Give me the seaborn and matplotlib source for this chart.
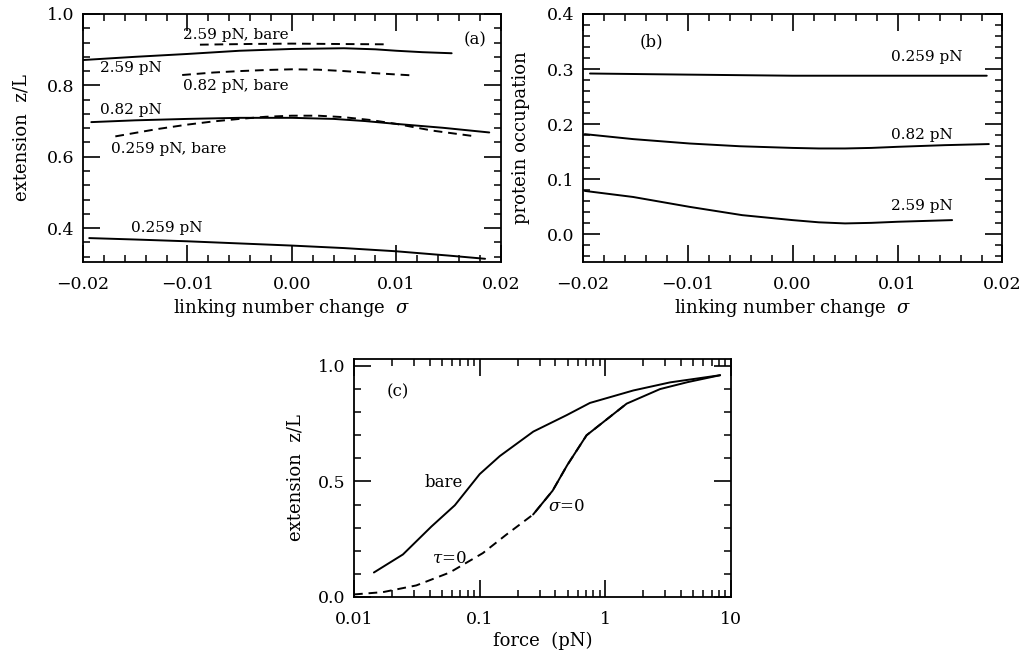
import numpy as np
import pandas as pd
import seaborn as sns
import matplotlib.pyplot as plt
from matplotlib.ticker import MultipleLocator, LogLocator, FixedLocator, FixedFormatter, NullFormatter

# ---- panel (a): extension vs linking number change ----
a_259_x = [-0.0194, -0.015, -0.01, -0.005, 0.0, 0.005, 0.01, 0.015, 0.0185]
a_259_y = [0.372, 0.368, 0.363, 0.357, 0.351, 0.344, 0.335, 0.323, 0.314]
a_259bare_x = [-0.0169, -0.013, -0.01, -0.0075, -0.005, -0.0025, 0.0, 0.0025, 0.0049, 0.0075, 0.01, 0.0135, 0.0176]
a_259bare_y = [0.657, 0.677, 0.690, 0.699, 0.706, 0.712, 0.715, 0.715, 0.711, 0.703, 0.692, 0.673, 0.657]
a_082_x = [-0.0192, -0.015, -0.01, -0.005, 0.0, 0.004, 0.007, 0.01, 0.0145, 0.0189]
a_082_y = [0.697, 0.702, 0.706, 0.709, 0.709, 0.706, 0.700, 0.692, 0.681, 0.668]
a_082bare_x = [-0.0105, -0.0075, -0.005, -0.0025, 0.0, 0.0025, 0.005, 0.008, 0.0115]
a_082bare_y = [0.829, 0.836, 0.840, 0.843, 0.845, 0.844, 0.840, 0.834, 0.828]
a_259pN_x = [-0.02, -0.015, -0.01, -0.005, 0.0, 0.005, 0.008, 0.01, 0.0125, 0.0153]
a_259pN_y = [0.871, 0.880, 0.888, 0.897, 0.902, 0.904, 0.901, 0.897, 0.893, 0.890]
a_259pNbare_x = [-0.0088, -0.004, 0.0, 0.004, 0.009]
a_259pNbare_y = [0.914, 0.916, 0.917, 0.916, 0.915]

# ---- panel (b): protein occupation ----
b_259_x = [-0.0193, -0.01, 0.0, 0.01, 0.0185]
b_259_y = [0.292, 0.290, 0.288, 0.288, 0.288]
b_082_x = [-0.0198, -0.0152, -0.0098, -0.005, 0.0, 0.0025, 0.005, 0.0075, 0.01, 0.0145, 0.0187]
b_082_y = [0.182, 0.173, 0.165, 0.160, 0.157, 0.156, 0.156, 0.157, 0.159, 0.162, 0.164]
b_259pN_x = [-0.0198, -0.0152, -0.0098, -0.0048, 0.0, 0.0025, 0.005, 0.0075, 0.01, 0.0152]
b_259pN_y = [0.079, 0.068, 0.050, 0.035, 0.026, 0.022, 0.020, 0.021, 0.023, 0.026]

# ---- panel (c): extension vs force ----
c_bare_f = [0.0144, 0.0245, 0.0413, 0.0634, 0.1, 0.1445, 0.267, 0.491, 0.753, 1.667, 3.27, 8.17]
c_bare_z = [0.106, 0.184, 0.305, 0.397, 0.532, 0.61, 0.716, 0.787, 0.84, 0.894, 0.929, 0.96]
c_sigma_f = [0.266, 0.38, 0.496, 0.708, 1.476, 2.72, 4.5, 8.17]
c_sigma_z = [0.357, 0.46, 0.57, 0.70, 0.837, 0.90, 0.93, 0.96]
c_tau_f = [0.01, 0.017, 0.0313, 0.0578, 0.106, 0.163, 0.266, 0.38, 0.496, 0.708, 1.476]
c_tau_z = [0.011, 0.021, 0.05, 0.106, 0.19, 0.27, 0.357, 0.46, 0.57, 0.70, 0.837]

sns.set_style("ticks")
plt.rcParams['font.family'] = ['DejaVu Serif']
plt.rcParams['mathtext.fontset'] = 'dejavuserif'
plt.rcParams.update({
    'xtick.direction': 'in', 'ytick.direction': 'in',
    'xtick.top': True, 'ytick.right': True,
    'xtick.major.size': 12, 'ytick.major.size': 12,
    'xtick.minor.size': 5, 'ytick.minor.size': 5,
    'xtick.major.width': 1.2, 'ytick.major.width': 1.2,
    'xtick.minor.width': 1.1, 'ytick.minor.width': 1.1,
    'axes.linewidth': 1.3, 'axes.edgecolor': 'black',
    'xtick.color': 'black', 'ytick.color': 'black',
    'text.color': 'black', 'axes.labelcolor': 'black',
    'font.size': 11, 'xtick.labelsize': 12.5, 'ytick.labelsize': 12.5,
    'xtick.major.pad': 10, 'ytick.major.pad': 6,
})

fig = plt.figure(figsize=(10.24, 6.54), dpi=100)
ax_a = fig.add_axes([0.081, 0.5994, 0.408, 0.3792])
ax_b = fig.add_axes([0.569, 0.5994, 0.410, 0.3792])
ax_c = fig.add_axes([0.3457, 0.0872, 0.3683, 0.3638])

lw = 1.4
dash = (4.5, 3)
label_fs = 13


def curve(ax, x, y, dashed=False):
    kw = dict(color='black', linewidth=lw, ax=ax, sort=False, estimator=None)
    line = sns.lineplot(x=x, y=y, **kw)
    if dashed:
        line.lines[-1].set_dashes(dash)


def minus(v, p):
    return f"{v:.2f}".replace('-', '\u2212')


# panel (a)
curve(ax_a, a_259_x, a_259_y)
curve(ax_a, a_259bare_x, a_259bare_y, dashed=True)
curve(ax_a, a_082_x, a_082_y)
curve(ax_a, a_082bare_x, a_082bare_y, dashed=True)
curve(ax_a, a_259pN_x, a_259pN_y)
curve(ax_a, a_259pNbare_x, a_259pNbare_y, dashed=True)
ax_a.set_xlim(-0.02, 0.02)
ax_a.set_ylim(0.305, 1.0)
ax_a.xaxis.set_major_locator(MultipleLocator(0.01))
ax_a.xaxis.set_minor_locator(MultipleLocator(0.002))
ax_a.yaxis.set_major_locator(FixedLocator([0.4, 0.6, 0.8, 1.0]))
ax_a.yaxis.set_minor_locator(MultipleLocator(0.04))
ax_a.xaxis.set_major_formatter(minus)
ax_a.yaxis.set_major_formatter(lambda v, p: f"{v:.1f}")
ax_a.set_xlabel(r"linking number change  $\sigma$", fontsize=label_fs, labelpad=3)
ax_a.set_ylabel("extension  z/L", fontsize=label_fs, labelpad=12)
ax_a.text(-0.0104, 0.941, "2.59 pN, bare", ha='left', va='center')
ax_a.text(-0.0184, 0.848, "2.59 pN", ha='left', va='center')
ax_a.text(-0.0104, 0.799, "0.82 pN, bare", ha='left', va='center')
ax_a.text(-0.0184, 0.731, "0.82 pN", ha='left', va='center')
ax_a.text(-0.0173, 0.621, "0.259 pN, bare", ha='left', va='center')
ax_a.text(-0.0154, 0.400, "0.259 pN", ha='left', va='center')
ax_a.text(0.0175, 0.927, "(a)", ha='center', va='center', fontsize=12)

# panel (b)
curve(ax_b, b_259_x, b_259_y)
curve(ax_b, b_082_x, b_082_y)
curve(ax_b, b_259pN_x, b_259pN_y)
ax_b.set_xlim(-0.02, 0.02)
ax_b.set_ylim(-0.05, 0.4)
ax_b.xaxis.set_major_locator(MultipleLocator(0.01))
ax_b.xaxis.set_minor_locator(MultipleLocator(0.002))
ax_b.yaxis.set_major_locator(FixedLocator([0.0, 0.1, 0.2, 0.3, 0.4]))
ax_b.yaxis.set_minor_locator(MultipleLocator(0.02))
ax_b.xaxis.set_major_formatter(minus)
ax_b.yaxis.set_major_formatter(lambda v, p: f"{v:.1f}")
ax_b.set_xlabel(r"linking number change  $\sigma$", fontsize=label_fs, labelpad=3)
ax_b.set_ylabel("protein occupation", fontsize=label_fs, labelpad=12)
ax_b.text(0.0094, 0.322, "0.259 pN", ha='left', va='center')
ax_b.text(0.0094, 0.181, "0.82 pN", ha='left', va='center')
ax_b.text(0.0094, 0.052, "2.59 pN", ha='left', va='center')
ax_b.text(-0.0134, 0.349, "(b)", ha='center', va='center', fontsize=12)

# panel (c)
curve(ax_c, c_bare_f, c_bare_z)
curve(ax_c, c_sigma_f, c_sigma_z)
curve(ax_c, c_tau_f, c_tau_z, dashed=True)
ax_c.set_xscale('log')
ax_c.set_xlim(0.01, 10)
ax_c.set_ylim(0.0, 1.03)
ax_c.xaxis.set_major_locator(FixedLocator([0.01, 0.1, 1, 10]))
ax_c.xaxis.set_major_formatter(FixedFormatter(["0.01", "0.1", "1", "10"]))
ax_c.xaxis.set_minor_locator(LogLocator(base=10, subs=np.arange(2, 10)))
ax_c.xaxis.set_minor_formatter(NullFormatter())
ax_c.yaxis.set_major_locator(FixedLocator([0.0, 0.5, 1.0]))
ax_c.yaxis.set_minor_locator(MultipleLocator(0.1))
ax_c.yaxis.set_major_formatter(lambda v, p: f"{v:.1f}")
ax_c.set_xlabel("force  (pN)", fontsize=label_fs, labelpad=3)
ax_c.set_ylabel("extension  z/L", fontsize=label_fs, labelpad=10)
ax_c.text(0.0518, 0.494, "bare", ha='center', va='center', fontsize=12)
ax_c.text(0.485, 0.393, r"$\sigma$=0", ha='center', va='center', fontsize=12)
ax_c.text(0.0568, 0.17, r"$\tau$=0", ha='center', va='center', fontsize=12)
ax_c.text(0.0224, 0.89, "(c)", ha='center', va='center', fontsize=12)

for ax in (ax_a, ax_b, ax_c):
    for s in ax.spines.values():
        s.set_visible(True)

fig.savefig("out.png", dpi=100)
